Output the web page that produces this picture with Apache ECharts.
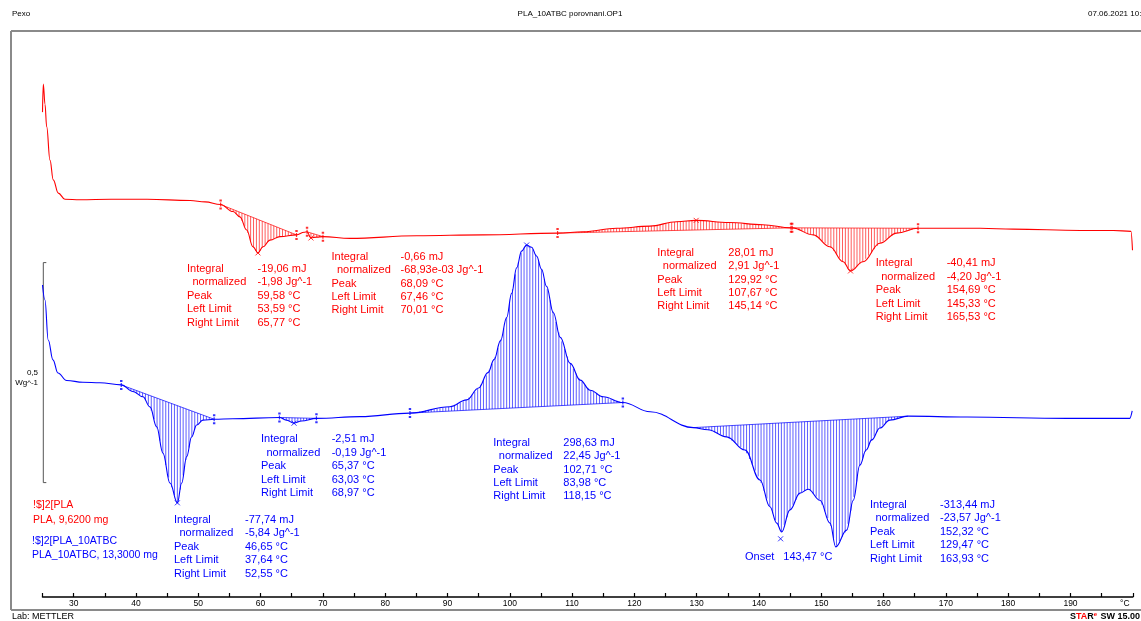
<!DOCTYPE html>
<html>
<head>
<meta charset="utf-8">
<script src="https://cdn.jsdelivr.net/npm/echarts@6/dist/echarts.min.js"></script>
<style>
  html, body { margin: 0; padding: 0; background: #fff; }
  #chart { width: 1141px; height: 621px; }
</style>
</head>
<body>
<div id="chart"></div>
<script>
// DSC heat-flow traces, temperature (°C) vs heat flow (W/g, traces offset on the display)
const plaCurve = [
  [25.00,1.102],[25.13,1.166],[25.40,1.120],[25.67,1.069],[26.20,0.993],[26.73,0.948],
  [27.53,0.918],[28.60,0.904],[31.0,0.903],[36.0,0.904],[41.8,0.904],[48.7,0.901],
  [51.1,0.898],[53.59,0.892],[55.57,0.876],[56.69,0.864],[57.77,0.834],[58.78,0.796],
  [59.58,0.782],[60.39,0.796],[61.51,0.811],[63.12,0.819],[65.77,0.823],[67.0,0.829],
  [67.46,0.830],[68.09,0.816],[69.0,0.818],[70.01,0.819],[74.35,0.815],[85.06,0.821],
  [95.7,0.823],[107.67,0.827],[111.75,0.830],[117.16,0.838],[122.5,0.843],[126.8,0.853],
  [129.92,0.856],[135.2,0.851],[140.6,0.846],[145.14,0.839],[145.33,0.839],[148.7,0.823],
  [151.4,0.796],[153.5,0.762],[154.69,0.741],[156.7,0.762],[159.4,0.804],[162.1,0.827],
  [165.53,0.838],[175.5,0.838],[180.8,0.836],[191.6,0.833],[196.9,0.833],[199.7,0.831],
  [199.95,0.788]
];
const pla10Curve = [
  [25.00,0.709],[25.39,0.675],[25.92,0.584],[26.68,0.539],[27.48,0.509],[28.88,0.492],
  [31.49,0.488],[34.22,0.487],[37.64,0.482],[39.52,0.467],[41.12,0.455],[42.25,0.432],
  [43.32,0.387],[44.33,0.327],[45.46,0.259],[46.65,0.214],[47.34,0.259],[48.14,0.319],
  [48.94,0.364],[49.74,0.391],[50.75,0.402],[52.55,0.404],[55.57,0.405],[63.03,0.408],
  [64.14,0.402],[65.37,0.395],[66.55,0.400],[68.97,0.406],[75.96,0.410],[83.98,0.418],
  [90.4,0.4325],[93.08,0.448],[95.0,0.475],[96.5,0.510],[97.5,0.540],[98.5,0.582],
  [99.5,0.635],[100.3,0.690],[101.1,0.748],[101.9,0.786],[102.71,0.800],[103.5,0.795],
  [104.3,0.775],[105.1,0.745],[105.9,0.706],[107.0,0.646],[108.1,0.590],[109.7,0.531],
  [111.3,0.493],[112.9,0.470],[115.0,0.455],[118.15,0.442],[122.53,0.421],[129.47,0.385],[131.8,0.380],
  [134.8,0.364],[137.75,0.334],[140.16,0.266],[141.76,0.205],[142.84,0.168],[143.64,0.148],
  [144.97,0.198],[146.58,0.236],[147.91,0.245],[149.79,0.220],[151.4,0.168],[152.32,0.114],
  [154.08,0.152],[155.13,0.220],[156.2,0.300],[157.2,0.334],[158.1,0.357],[159.4,0.384],
  [161.0,0.402],[163.93,0.411],[173.4,0.409],[189.4,0.406],[199.5,0.406],[199.9,0.423]
];

// Integration results (integral mJ, normalized J/g, peak / limits °C)
const plaPeaks = [
  { integral: -19.06, normalized: -1.98,    peak: 59.58,  left: 53.59,  right: 65.77 },
  { integral: -0.66,  normalized: -0.06893, peak: 68.09,  left: 67.46,  right: 70.01 },
  { integral: 28.01,  normalized: 2.91,     peak: 129.92, left: 107.67, right: 145.14 },
  { integral: -40.41, normalized: -4.20,    peak: 154.69, left: 145.33, right: 165.53 }
];
const pla10Peaks = [
  { integral: -77.74,  normalized: -5.84,  peak: 46.65,  left: 37.64,  right: 52.55 },
  { integral: -2.51,   normalized: -0.19,  peak: 65.37,  left: 63.03,  right: 68.97 },
  { integral: 298.63,  normalized: 22.45,  peak: 102.71, left: 83.98,  right: 118.15 },
  { integral: -313.44, normalized: -23.57, peak: 152.32, left: 129.47, right: 163.93 }
];
const pla10Onset = 143.47;

const sampleNames = ['!$]2[PLA', '!$]2[PLA_10ATBC'];
const sampleLines = ['PLA, 9,6200 mg', 'PLA_10ATBC, 13,3000 mg'];
const scaleBar = { from: 0.26, to: 0.76, label: '0,5', unit: 'Wg^-1' };

const RED = '#ff0000';
const BLUE = '#0000ff';
const FONT = '"Liberation Sans", Arial, sans-serif';

function interp(curve, t) {
  for (let i = 1; i < curve.length; i++) {
    if (t <= curve[i][0]) {
      const a = curve[i - 1], b = curve[i];
      return a[1] + (b[1] - a[1]) * (t - a[0]) / (b[0] - a[0]);
    }
  }
  return curve[curve.length - 1][1];
}
const num = v => v.toFixed(2).replace('.', ',');
const normText = v => Math.abs(v) < 0.1 ? num(v * 1000) + 'e-03' : num(v);

// vertical hatch strokes between a trace and its straight integration baseline
function hatch(curve, pk, color) {
  const yL = interp(curve, pk.left), yR = interp(curve, pk.right);
  return {
    type: 'custom', coordinateSystem: 'cartesian2d', silent: true, z: 1,
    data: [[pk.left, yL]],
    renderItem(params, api) {
      const p0 = api.coord([pk.left, yL]), p1 = api.coord([pk.right, yR]);
      const children = [];
      const step = 2.9;
      for (let px = p0[0] + 1; px < p1[0]; px += step) {
        const f = (px - p0[0]) / (p1[0] - p0[0]);
        const t = pk.left + f * (pk.right - pk.left);
        const yc = api.coord([t, interp(curve, t)])[1];
        const yb = api.coord([t, yL + f * (yR - yL)])[1];
        children.push({ type: 'line', shape: { x1: px, y1: yc, x2: px, y2: yb },
          style: { stroke: color, lineWidth: 0.8, opacity: 0.8 } });
      }
      children.push({ type: 'line', shape: { x1: p0[0], y1: p0[1], x2: p1[0], y2: p1[1] },
        style: { stroke: color, lineWidth: 0.7 } });
      return { type: 'group', children };
    }
  };
}

const LIMIT_SYMBOL = 'path://M0,0h2v2h-2z M0.5,3h1v4h-1z M0,8h2v2h-2z';
const CROSS_SYMBOL = 'path://M0,0L10,10M10,0L0,10';

function markers(curve, peaks, color, extra) {
  const lim = [], pk = [];
  peaks.forEach(p => {
    lim.push([p.left, interp(curve, p.left)], [p.right, interp(curve, p.right)]);
    pk.push([p.peak, interp(curve, p.peak)]);
  });
  (extra || []).forEach(t => pk.push([t, interp(curve, t) - 0.02]));
  return [
    { type: 'scatter', data: lim, symbol: LIMIT_SYMBOL, symbolSize: [2.4, 10], z: 4,
      itemStyle: { color }, silent: true },
    { type: 'scatter', data: pk, symbol: CROSS_SYMBOL, symbolSize: 5, z: 4,
      itemStyle: { color: 'transparent', borderColor: color, borderWidth: 1 }, silent: true }
  ];
}

function traceSeries(curve, color) {
  return { type: 'line', data: curve, showSymbol: false, smooth: 0.4, smoothMonotone: 'x',
    lineStyle: { color, width: 1.1 }, z: 3, silent: true };
}

const series = [
  traceSeries(plaCurve, RED),
  traceSeries(pla10Curve, BLUE),
  ...plaPeaks.map(p => hatch(plaCurve, p, RED)),
  ...pla10Peaks.map(p => hatch(pla10Curve, p, BLUE)),
  ...markers(plaCurve, plaPeaks, RED),
  ...markers(pla10Curve, pla10Peaks.filter(p => p.peak !== 152.32), BLUE, [pla10Onset])
];

// annotation block placement: [label x, value x, first row y]
const plaBlocks = [[187, 257.5, 269], [331.5, 400.5, 256.7], [657.3, 728.3, 252.7], [875.7, 946.7, 263.3]];
const pla10Blocks = [[174, 245, 520], [261, 331.7, 439.3], [493.3, 563.3, 442.7], [870, 940, 505]];
const ROW = 13.4;

function textEl(x, y, text, color, size, align) {
  return { type: 'text', x, y, silent: true,
    style: { text, fill: color, font: (size || 11) + 'px ' + FONT, verticalAlign: 'middle', align: align || 'left' } };
}

function blockTexts(peaks, pos, color) {
  const out = [];
  peaks.forEach((p, i) => {
    const [lx, vx, y0] = pos[i];
    const rows = [
      ['Integral', num(p.integral) + ' mJ', 0],
      ['normalized', normText(p.normalized) + ' Jg^-1', 5.5],
      ['Peak', num(p.peak) + ' °C', 0],
      ['Left Limit', num(p.left) + ' °C', 0],
      ['Right Limit', num(p.right) + ' °C', 0]
    ];
    rows.forEach((r, k) => {
      out.push(textEl(lx + r[2], y0 + k * ROW, r[0], color));
      out.push(textEl(vx, y0 + k * ROW, r[1], color));
    });
  });
  return out;
}

const graphics = [
  // frame
  { type: 'line', shape: { x1: 11, y1: 31, x2: 1141, y2: 31 }, style: { stroke: '#8a8a8a', lineWidth: 2 }, silent: true },
  { type: 'line', shape: { x1: 11, y1: 31, x2: 11, y2: 610 }, style: { stroke: '#8a8a8a', lineWidth: 2 }, silent: true },
  { type: 'line', shape: { x1: 11, y1: 610, x2: 1141, y2: 610 }, style: { stroke: '#8a8a8a', lineWidth: 2 }, silent: true },
  // header & footer
  textEl(12, 14, 'Pexo', '#000', 8),
  textEl(570, 14, 'PLA_10ATBC porovnani.OP1', '#000', 8, 'center'),
  textEl(1088, 14, '07.06.2021 10:33:16', '#000', 8),
  textEl(12, 617, 'Lab: METTLER', '#000', 9),
  { type: 'text', x: 1140, y: 617, silent: true, style: {
      text: '{s|S}{r|TA}{s|R}{e|e} {s|SW 15.00}', align: 'right', verticalAlign: 'middle',
      rich: { s: { fill: '#000', font: 'bold 9px ' + FONT }, r: { fill: RED, font: 'bold 9px ' + FONT },
              e: { fill: RED, font: 'bold 6px ' + FONT, verticalAlign: 'top' } } } },
  // sample legend
  textEl(33, 505, sampleNames[0], RED, 10.5),
  textEl(33, 520, sampleLines[0], RED, 10.5),
  textEl(32, 541.5, sampleNames[1], BLUE, 10.5),
  textEl(32, 555.5, sampleLines[1], BLUE, 10.5),
  // onset label
  textEl(745, 557.3, 'Onset', BLUE),
  textEl(783.3, 557.3, num(pla10Onset) + ' °C', BLUE),
  ...blockTexts(plaPeaks, plaBlocks, RED),
  ...blockTexts(pla10Peaks, pla10Blocks, BLUE)
];

const chart = echarts.init(document.getElementById('chart'));
chart.setOption({
  animation: false,
  backgroundColor: '#fff',
  grid: { left: 42.5, right: 8.2, top: 25, bottom: 24 },
  xAxis: [
    { type: 'value', min: 25, max: 200, interval: 1,
      axisLine: { lineStyle: { color: '#000', width: 1.5 } },
      axisTick: { show: false }, splitLine: { show: false },
      axisLabel: { color: '#000', fontSize: 8.5, fontFamily: FONT, margin: 2,
        formatter: v => (v === 200 ? '{u|°C}' : (v % 10 === 0 ? String(v) : '')),
        rich: { u: { fontSize: 8.5, fontFamily: FONT, color: '#000', padding: [0, 16, 0, 0] } } } },
    { type: 'value', min: 25, max: 200, interval: 5, position: 'bottom',
      axisLine: { show: false }, splitLine: { show: false }, axisLabel: { show: false },
      axisTick: { show: true, inside: true, length: 4, lineStyle: { color: '#000', width: 1.2 } } }
  ],
  yAxis: { type: 'value', min: 0, max: 1.3, show: false },
  series,
  graphic: graphics
});

// 0.5 W/g scale bar at the left edge
const pTop = chart.convertToPixel({ xAxisIndex: 0, yAxisIndex: 0 }, [25, scaleBar.to]);
const pBot = chart.convertToPixel({ xAxisIndex: 0, yAxisIndex: 0 }, [25, scaleBar.from]);
const bx = 43.3;
chart.setOption({ graphic: graphics.concat([
  { type: 'line', shape: { x1: bx, y1: pTop[1], x2: bx, y2: pBot[1] }, style: { stroke: '#555', lineWidth: 1 }, silent: true },
  { type: 'line', shape: { x1: bx, y1: pTop[1], x2: bx + 3, y2: pTop[1] }, style: { stroke: '#555', lineWidth: 1 }, silent: true },
  { type: 'line', shape: { x1: bx, y1: pBot[1], x2: bx + 3, y2: pBot[1] }, style: { stroke: '#555', lineWidth: 1 }, silent: true },
  textEl(38, (pTop[1] + pBot[1]) / 2, scaleBar.label, '#000', 8, 'right'),
  textEl(38, (pTop[1] + pBot[1]) / 2 + 10, scaleBar.unit, '#000', 8, 'right')
]) });
</script>
</body>
</html>
